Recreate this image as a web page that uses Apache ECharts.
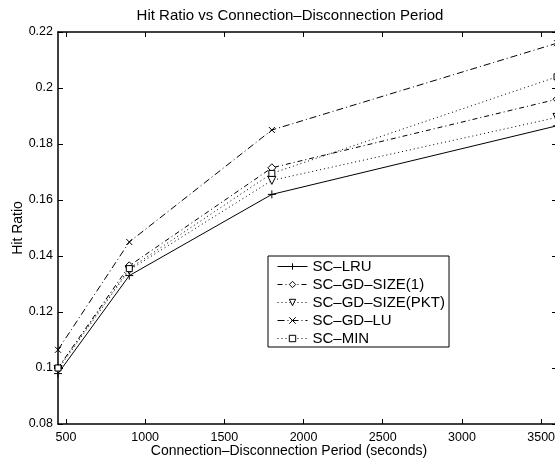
<!DOCTYPE html>
<html>
<head>
<meta charset="utf-8">
<script src="https://cdn.jsdelivr.net/npm/echarts@6/dist/echarts.min.js"></script>
<style>html,body{margin:0;padding:0;background:#fff;}#c{width:555px;height:461px;}</style>
</head>
<body>
<div id="c"></div>
<script>
var periods = [450, 900, 1800, 3600];
var scLRU = [0.098, 0.133, 0.162, 0.1865];
var scGDSize1 = [0.100, 0.1365, 0.1715, 0.196];
var scGDSizePKT = [0.0995, 0.135, 0.167, 0.1895];
var scGDLU = [0.1065, 0.145, 0.185, 0.216];
var scMIN = [0.100, 0.1355, 0.1695, 0.204];
var xTicks = [500, 1000, 1500, 2000, 2500, 3000, 3500];
var seriesNames = ['SC\u2013LRU', 'SC\u2013GD\u2013SIZE(1)', 'SC\u2013GD\u2013SIZE(PKT)', 'SC\u2013GD\u2013LU', 'SC\u2013MIN'];

function pairs(vals) { return periods.map(function (p, i) { return [p, vals[i]]; }); }

var FONT = 'Liberation Sans, Arial, Helvetica, sans-serif';
var plusPath = 'path://M-1,0L1,0M0,-1L0,1';
var crossPath = 'path://M-1,-1L1,1M1,-1L-1,1';

function mk(name, vals, dash, symbol, size, rotate) {
  return {
    name: name, type: 'line', data: pairs(vals),
    color: '#000',
    symbol: symbol, symbolSize: size, symbolRotate: rotate || 0,
    showSymbol: true, animation: false,
    lineStyle: { color: '#000', width: 1, type: dash },
    itemStyle: { color: '#fff', borderColor: '#000', borderWidth: 1 },
    emphasis: { disabled: true }
  };
}

var chart = echarts.init(document.getElementById('c'), null, { renderer: 'canvas' });
var axisLineStyle = { color: '#000', width: 1.5 };
chart.setOption({
  backgroundColor: '#fff',
  animation: false,
  title: {
    text: 'Hit Ratio vs Connection\u2013Disconnection Period',
    left: 290, top: 8, textAlign: 'center', padding: 0,
    textStyle: { fontFamily: FONT, fontSize: 15, fontWeight: 'normal', color: '#000' }
  },
  grid: { left: 58, top: 32, width: 499, height: 392, containLabel: false, outerBoundsMode: 'none' },
  legend: {
    orient: 'vertical', left: 268, top: 256,
    padding: [3, 4, 1, 9], itemGap: 3,
    itemWidth: 30, itemHeight: 8,
    backgroundColor: '#fff', borderColor: '#000', borderWidth: 1, borderRadius: 0,
    itemStyle: { color: '#fff', borderColor: '#000', borderWidth: 1 },
    lineStyle: { color: '#000', width: 1 },
    textStyle: { fontFamily: FONT, fontSize: 15, color: '#000' },
    data: seriesNames
  },
  xAxis: [{
    type: 'value', min: 450, max: 3600,
    name: 'Connection\u2013Disconnection Period (seconds)',
    nameLocation: 'middle', nameGap: 20, nameMoveOverlap: false,
    nameTextStyle: { fontFamily: FONT, fontSize: 14, color: '#000', padding: [0, 37, 0, 0] },
    axisLine: { show: true, lineStyle: axisLineStyle },
    axisTick: { show: true, inside: true, length: 5, customValues: xTicks, lineStyle: { color: '#000' } },
    axisLabel: { customValues: xTicks, margin: 7, fontFamily: FONT, fontSize: 12.5, color: '#000',
      formatter: function (v) { return String(v); } },
    splitLine: { show: false }
  }, {
    type: 'value', min: 450, max: 3600, position: 'top',
    axisLine: { show: true, onZero: false, lineStyle: axisLineStyle },
    axisTick: { show: true, inside: true, length: 5, customValues: xTicks, lineStyle: { color: '#000' } },
    axisLabel: { show: false },
    splitLine: { show: false }
  }],
  yAxis: [{
    type: 'value', min: 0.08, max: 0.22, interval: 0.02,
    name: 'Hit Ratio', nameLocation: 'middle', nameGap: 33, nameMoveOverlap: false,
    nameTextStyle: { fontFamily: FONT, fontSize: 14, color: '#000' },
    axisLine: { show: true, lineStyle: axisLineStyle },
    axisTick: { show: true, inside: true, length: 5, lineStyle: { color: '#000' } },
    axisLabel: { margin: 5, fontFamily: FONT, fontSize: 12.5, color: '#000',
      formatter: function (v) { return String(parseFloat(v.toFixed(2))); } },
    splitLine: { show: false }
  }, {
    type: 'value', min: 0.08, max: 0.22, interval: 0.02, position: 'right',
    axisLine: { show: true, onZero: false, lineStyle: axisLineStyle },
    axisTick: { show: true, inside: true, length: 5, lineStyle: { color: '#000' } },
    axisLabel: { show: false },
    splitLine: { show: false }
  }],
  series: [
    mk(seriesNames[0], scLRU, 'solid', plusPath, 8),
    mk(seriesNames[1], scGDSize1, [5, 3, 1, 3], 'diamond', 8),
    mk(seriesNames[2], scGDSizePKT, [1, 3], 'triangle', 8, 180),
    mk(seriesNames[3], scGDLU, [7, 3, 1, 3], crossPath, 6),
    mk(seriesNames[4], scMIN, [1, 3], 'rect', 6)
  ]
});
</script>
</body>
</html>
